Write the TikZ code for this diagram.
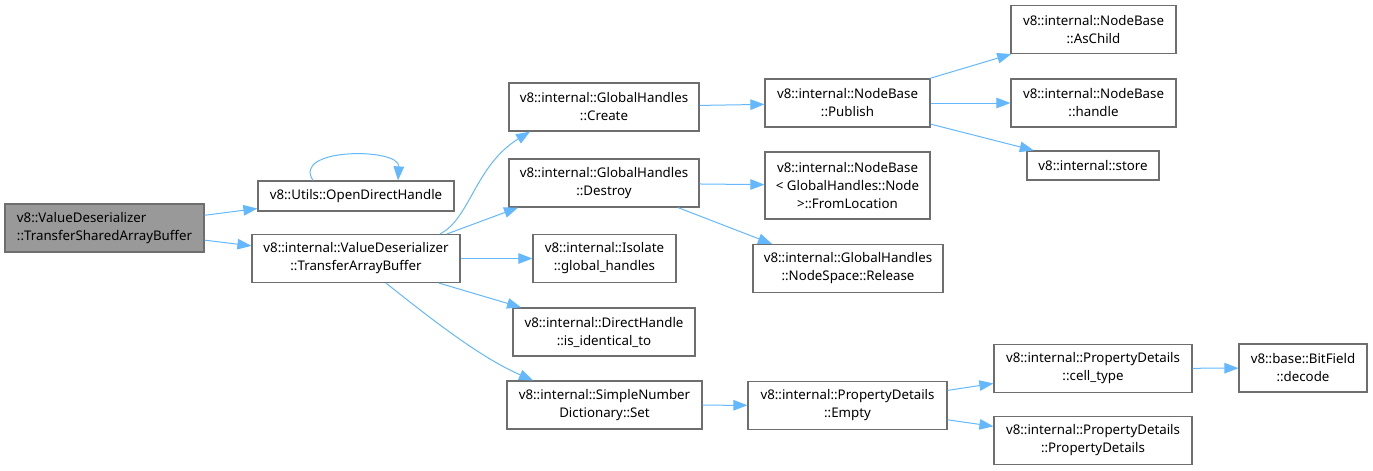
\documentclass[tikz,border=0pt]{standalone}
\usepackage{fontspec}
\setmainfont{Noto Sans}
\usetikzlibrary{shapes,arrows.meta,positioning}
\definecolor{edgeblue}{RGB}{99,184,255}
\definecolor{boxgrey}{RGB}{110,110,110}
\definecolor{rootgrey}{RGB}{153,153,153}

\begin{document}
\begin{tikzpicture}[x=1pt, y=-1pt, every node/.style={font=\fontsize{13.3}{18}\selectfont},
  fn/.style={draw=boxgrey, line width=1.2pt, rectangle, fill=white, align=center, inner sep=0pt, minimum height=48pt},
  call/.style={-{Triangle[length=14pt,width=10.5pt]}, color=edgeblue, line width=1pt}]
\useasboundingbox (0,0) rectangle (1373,471);

\node[fn, fill=rootgrey, align=left, minimum width=199pt] (tsab) at (104.5,228) {v8::ValueDeserializer\\::TransferSharedArrayBuffer};
\node[fn, minimum width=196pt, minimum height=30pt] (util) at (356,196) {v8::Utils::OpenDirectHandle};
\node[fn, minimum width=208pt] (tab) at (356,258.5) {v8::internal::ValueDeserializer\\::TransferArrayBuffer};

\node[fn, minimum width=190pt] (create) at (604,107) {v8::internal::GlobalHandles\\::Create};
\node[fn, minimum width=190pt] (destroy) at (604,183) {v8::internal::GlobalHandles\\::Destroy};
\node[fn, minimum width=143pt] (isolate) at (604.5,258.5) {v8::internal::Isolate\\::global\_handles};
\node[fn, minimum width=182pt] (ident) at (604,332) {v8::internal::DirectHandle\\::is\_identical\_to};
\node[fn, minimum width=195pt] (snd) at (604.5,405) {v8::internal::SimpleNumber\\Dictionary::Set};

\node[fn, minimum width=165pt] (publish) at (847.5,103) {v8::internal::NodeBase\\::Publish};
\node[fn, minimum width=165pt, minimum height=67pt] (fromloc) at (847.5,185.5) {v8::internal::NodeBase\\< GlobalHandles::Node\\>::FromLocation};
\node[fn, minimum width=190pt] (release) at (848,268.5) {v8::internal::GlobalHandles\\::NodeSpace::Release};
\node[fn, minimum width=199pt] (empty) at (847.5,405.5) {v8::internal::PropertyDetails\\::Empty};

\node[fn, minimum width=165pt] (aschild) at (1093.5,29.5) {v8::internal::NodeBase\\::AsChild};
\node[fn, minimum width=165pt] (handle) at (1093.5,103) {v8::internal::NodeBase\\::handle};
\node[fn, minimum width=132pt, minimum height=29pt] (store) at (1093,165.5) {v8::internal::store};
\node[fn, minimum width=198pt] (celltype) at (1093,368.5) {v8::internal::PropertyDetails\\::cell\_type};
\node[fn, minimum width=198pt] (pdetails) at (1093,440.5) {v8::internal::PropertyDetails\\::PropertyDetails};
\node[fn, minimum width=128pt] (bitfield) at (1303,368) {v8::base::BitField\\::decode};

\draw[call] (tsab) -- (util);
\draw[call] (tsab) -- (tab);
\draw[call] ([xshift=-43pt]util.north) .. controls +(-22,-33) and +(2,-33) .. ([xshift=42pt]util.north);
\draw[call] ([xshift=84pt]tab.north) .. controls +(30,-15) and +(-55,34) .. ([xshift=-74pt]create.south);
\draw[call] ([xshift=91pt]tab.north) -- ([xshift=-86pt]destroy.south);
\draw[call] (tab) -- (isolate);
\draw[call] (tab) -- (ident);
\draw[call] ([xshift=30pt]tab.south) .. controls +(44,35) and +(-53,-23) .. ([xshift=-71.5pt]snd.north);
\draw[call] (create) -- (publish);
\draw[call] (destroy) -- (fromloc);
\draw[call] ([xshift=74pt]destroy.south) -- ([xshift=-76pt]release.north);
\draw[call] (publish) -- (aschild);
\draw[call] (publish) -- (handle);
\draw[call] (publish) -- (store);
\draw[call] (snd) -- (empty);
\draw[call] (empty) -- (celltype);
\draw[call] (empty) -- (pdetails);
\draw[call] (celltype) -- (bitfield);
\end{tikzpicture}
\end{document}
